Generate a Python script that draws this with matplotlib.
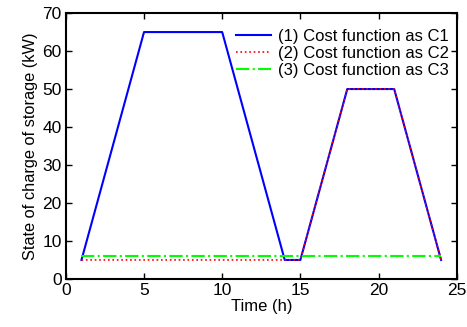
import numpy as np
import matplotlib
matplotlib.use("Agg")
import matplotlib.pyplot as plt

plt.rcParams['font.family'] = ['Liberation Sans', 'DejaVu Sans']

# C1: storage trajectory
t1 = [1, 5, 10, 14, 15, 18, 21, 24]
c1 = [5, 65, 65, 5, 5, 50, 50, 5]
# C2
t2 = [1, 14, 15, 18, 21, 24]
c2 = [5, 5, 5, 50, 50, 5]
# C3
t3 = [1, 24]
c3 = [6, 6]

fig = plt.figure(figsize=(4.67, 3.27), dpi=100)
ax = fig.add_axes([0.141, 0.147, 0.837, 0.813])

ax.plot(t1, c1, '-', color='#0000ff', lw=1.5, label='(1) Cost function as C1')
ax.plot(t2, c2, ':', color='#ff0000', lw=1.2, label='(2) Cost function as C2')
ax.plot(t3, c3, '-.', color='#00ff00', lw=1.5, label='(3) Cost function as C3')

ax.set_xlim(0, 25)
ax.set_ylim(0, 70)
ax.set_xticks(np.arange(0, 26, 5))
ax.set_yticks(np.arange(0, 71, 10))
ax.tick_params(direction='in', top=True, right=True, labelsize=12.5, length=4, width=1, pad=3)
for s in ax.spines.values():
    s.set_linewidth(1.5)
ax.set_xlabel('Time (h)', fontsize=12, labelpad=1)
ax.set_ylabel('State of charge of storage (kW)', fontsize=11.8, labelpad=3)

leg = ax.legend(loc='upper right', bbox_to_anchor=(0.998, 0.965), frameon=False,
                fontsize=12, handlelength=2.1, handletextpad=0.45,
                labelspacing=0.12, borderaxespad=0.0)

fig.savefig('out.png', dpi=100)
